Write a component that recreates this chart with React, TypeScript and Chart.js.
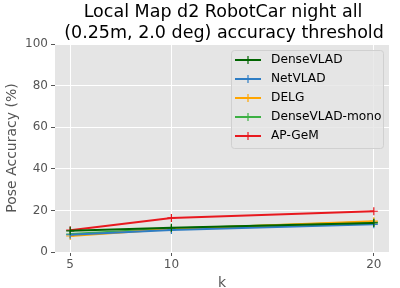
import React, { useEffect, useRef } from "react";
import { Chart, registerables } from "chart.js";

Chart.register(...registerables);

const kValues = [5, 10, 20];
const denseVLAD = [10.2, 11.6, 14.0];
const netVLAD = [8.3, 10.6, 13.3];
const delg = [7.7, 11.0, 14.8];
const denseVLADMono = [8.6, 11.3, 14.4];
const apGeM = [10.5, 16.4, 19.6];

const titleLines = ["Local Map d2 RobotCar night all", "(0.25m, 2.0 deg) accuracy threshold"];
const yTicks = [0, 20, 40, 60, 80, 100];

const seriesNames = ["DenseVLAD", "NetVLAD", "DELG", "DenseVLAD-mono", "AP-GeM"];
const seriesColors = ["#006400", "#2e7dc4", "#ffa500", "#3cb043", "#e8191f"];
const seriesValues = [denseVLAD, netVLAD, delg, denseVLADMono, apGeM];

const FONT = "'DejaVu Sans', sans-serif";

const bgPlugin = {
  id: "bgPlugin",
  beforeDraw(chart: any) {
    const { ctx, chartArea } = chart;
    ctx.save();
    ctx.fillStyle = "#ffffff";
    ctx.fillRect(0, 0, chart.width, chart.height);
    ctx.fillStyle = "#e5e5e5";
    ctx.fillRect(chartArea.left, chartArea.top, chartArea.right - chartArea.left, chartArea.bottom - chartArea.top);
    ctx.restore();
  },
  afterDraw(chart: any) {
    const { ctx } = chart;
    ctx.save();
    // title
    ctx.fillStyle = "#000000";
    ctx.font = `17.5px ${FONT}`;
    ctx.textAlign = "center";
    ctx.textBaseline = "middle";
    ctx.fillText(titleLines[0], 223, 12);
    ctx.fillText(titleLines[1], 224, 33);
    // legend
    const lx = 231, ly = 50, lw = 152, lh = 98;
    ctx.fillStyle = "rgba(229,229,229,0.8)";
    ctx.strokeStyle = "#d0d0d0";
    ctx.lineWidth = 1;
    ctx.beginPath();
    if ((ctx as any).roundRect) (ctx as any).roundRect(lx + 0.5, ly + 0.5, lw, lh, 3);
    else ctx.rect(lx + 0.5, ly + 0.5, lw, lh);
    ctx.fill();
    ctx.stroke();
    ctx.font = `12.2px ${FONT}`;
    ctx.textAlign = "left";
    ctx.textBaseline = "middle";
    chart.data.datasets.forEach((ds: any, i: number) => {
      const y = 60 + i * 19;
      ctx.strokeStyle = ds.borderColor;
      ctx.lineWidth = 2;
      ctx.beginPath();
      ctx.moveTo(235, y);
      ctx.lineTo(261, y);
      ctx.stroke();
      ctx.lineWidth = 1.2;
      ctx.beginPath();
      ctx.moveTo(248, y - 4);
      ctx.lineTo(248, y + 4);
      ctx.stroke();
      ctx.fillStyle = "#000000";
      ctx.fillText(ds.label, 271, y);
    });
    ctx.restore();
  },
};

export default function App() {
  const ref = useRef<HTMLCanvasElement>(null);
  useEffect(() => {
    if (!ref.current) return;
    const chart = new Chart(ref.current, {
      type: "line",
      data: {
        datasets: seriesNames.map((name, i) => ({
          label: name,
          data: kValues.map((k, j) => ({ x: k, y: seriesValues[i][j] })),
          borderColor: seriesColors[i],
          backgroundColor: seriesColors[i],
          borderWidth: 2,
          pointStyle: "cross",
          pointRadius: 4,
          pointBorderWidth: 1.2,
          tension: 0,
          fill: false,
        })),
      },
      options: {
        animation: false,
        responsive: false,
        layout: { padding: { top: 44, right: 11, left: 0, bottom: 0 } },
        plugins: { legend: { display: false }, title: { display: false }, tooltip: { enabled: false } },
        scales: {
          x: {
            type: "linear",
            min: 4.25,
            max: 20.75,
            afterBuildTicks: (s: any) => {
              s.ticks = kValues.map((v) => ({ value: v }));
            },
            afterFit: (s: any) => {
              s.height = 36;
            },
            grid: { color: "#ffffff", lineWidth: 1, tickLength: 4, tickColor: "#555555" },
            border: { display: false },
            ticks: { color: "#555555", font: { family: FONT, size: 12 }, padding: 2, maxRotation: 0 },
            title: { display: true, text: "k", color: "#555555", font: { family: FONT, size: 14 }, padding: { top: 0, bottom: -4 } },
          },
          y: {
            min: 0,
            max: 100,
            afterBuildTicks: (s: any) => {
              s.ticks = yTicks.map((v) => ({ value: v }));
            },
            afterFit: (s: any) => {
              s.width = 55;
            },
            grid: { color: "#ffffff", lineWidth: 1, tickLength: 4, tickColor: "#555555" },
            border: { display: false },
            ticks: { color: "#555555", font: { family: FONT, size: 12 }, padding: 3 },
            title: { display: true, text: "Pose Accuracy (%)", color: "#555555", font: { family: FONT, size: 14 }, padding: { top: 4, bottom: 0 } },
          },
        },
      },
      plugins: [bgPlugin],
    } as any);
    return () => chart.destroy();
  }, []);
  return (
    <div style={{ position: "fixed", left: 0, top: 0, width: 400, height: 288 }}>
      <canvas ref={ref} width={400} height={288} style={{ width: 400, height: 288 }} />
    </div>
  );
}
